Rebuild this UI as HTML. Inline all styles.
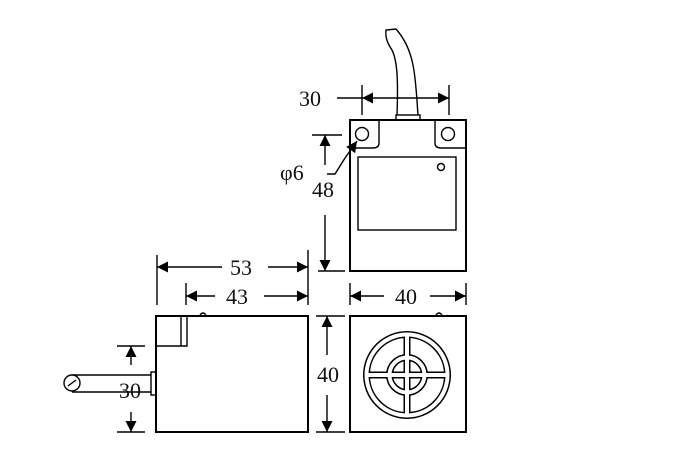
<!DOCTYPE html>
<html><head><style>body{margin:0;background:#fff}svg{display:block}text{font-family:"Liberation Serif",serif;font-size:22px;fill:#111}</style></head>
<body>
<svg width="700" height="475" viewBox="0 0 700 475" xmlns="http://www.w3.org/2000/svg">
<defs>
<marker id="a" viewBox="0 0 10 10" refX="10" refY="5" markerWidth="15" markerHeight="11" markerUnits="userSpaceOnUse" orient="auto-start-reverse"><path d="M0,0 L10,5 L0,10 z" fill="#000"/></marker>
</defs>
<g stroke="#000" fill="none" stroke-width="1.4">
<!-- top view -->
<path d="M397,116 C398,85 398,62 392,50 C388,44 385,38 386,30 L396,29 C404,38 410,50 413,65 C416,80 417,100 418,116"/>
<rect x="396" y="115" width="24" height="5" fill="#fff"/>
<rect x="350" y="120" width="116" height="151" stroke-width="2"/>
<path d="M379,120 L379,143 Q379,148 373,148 L350,148"/>
<path d="M435,120 L435,143 Q435,148 441,148 L466,148"/>
<circle cx="362" cy="134" r="6.5"/>
<circle cx="448" cy="134" r="6.5"/>
<rect x="358" y="157" width="98" height="73"/>
<circle cx="441" cy="167" r="3.5"/>
<!-- 30 top -->
<line x1="362" y1="85" x2="362" y2="115"/>
<line x1="449" y1="85" x2="449" y2="115"/>
<line x1="337" y1="98" x2="362" y2="98"/>
<line x1="362" y1="98" x2="449" y2="98" marker-start="url(#a)" marker-end="url(#a)"/>
<!-- 48 -->
<line x1="312" y1="135" x2="342" y2="135"/>
<line x1="318" y1="271" x2="345" y2="271"/>
<line x1="325" y1="165" x2="325" y2="135" marker-end="url(#a)"/>
<line x1="325" y1="215" x2="325" y2="271" marker-end="url(#a)"/>
<path d="M327,174 L335,174 L345,158"/>
<line x1="345" y1="158" x2="357" y2="141" marker-end="url(#a)"/>
<!-- side view -->
<rect x="156" y="316" width="152" height="116" stroke-width="2"/>
<path d="M156,346 L187,346 L187,316"/>
<line x1="181" y1="316" x2="181" y2="346"/>
<path d="M200,315 Q203,311 206,315"/>
<rect x="151" y="372" width="5" height="23"/>
<path d="M72,375 L151,375 M72,392 L151,392"/>
<circle cx="72" cy="383" r="8" fill="#fff"/>
<line x1="68" y1="386" x2="76" y2="380"/>
<!-- 53 / 43 -->
<line x1="157" y1="255" x2="157" y2="305"/>
<line x1="308" y1="250" x2="308" y2="305"/>
<line x1="186" y1="283" x2="186" y2="305"/>
<line x1="222" y1="267" x2="157" y2="267" marker-end="url(#a)"/>
<line x1="268" y1="267" x2="308" y2="267" marker-end="url(#a)"/>
<line x1="215" y1="296" x2="186" y2="296" marker-end="url(#a)"/>
<line x1="264" y1="296" x2="308" y2="296" marker-end="url(#a)"/>
<!-- 40 vertical -->
<line x1="316" y1="316" x2="345" y2="316"/>
<line x1="316" y1="432" x2="345" y2="432"/>
<line x1="327" y1="355" x2="327" y2="316" marker-end="url(#a)"/>
<line x1="327" y1="395" x2="327" y2="432" marker-end="url(#a)"/>
<!-- 30 vertical -->
<line x1="117" y1="346" x2="145" y2="346"/>
<line x1="117" y1="432" x2="145" y2="432"/>
<line x1="131" y1="365" x2="131" y2="346" marker-end="url(#a)"/>
<line x1="131" y1="412" x2="131" y2="432" marker-end="url(#a)"/>
<!-- front view -->
<rect x="350" y="316" width="116" height="116" stroke-width="2"/>
<path d="M436,315 Q439,311 442,315"/>
<line x1="350" y1="283" x2="350" y2="305"/>
<line x1="466" y1="283" x2="466" y2="305"/>
<line x1="384" y1="296" x2="350" y2="296" marker-end="url(#a)"/>
<line x1="430" y1="296" x2="466" y2="296" marker-end="url(#a)"/>
</g>
<g fill="none" stroke="#000" stroke-width="7">
<circle cx="407" cy="375" r="40.5"/>
<circle cx="407" cy="375" r="17.5"/>
<line x1="407" y1="333" x2="407" y2="417"/>
<line x1="365" y1="375" x2="449" y2="375"/>
</g>
<g fill="none" stroke="#fff" stroke-width="4">
<circle cx="407" cy="375" r="40.5"/>
<circle cx="407" cy="375" r="17.5"/>
<line x1="407" y1="335.5" x2="407" y2="414.5"/>
<line x1="367.5" y1="375" x2="446.5" y2="375"/>
</g>
<text x="299" y="106">30</text>
<text x="280" y="180">φ6</text>
<text x="312" y="197">48</text>
<text x="230" y="275">53</text>
<text x="226" y="304">43</text>
<text x="395" y="304">40</text>
<text x="317" y="382">40</text>
<text x="119" y="398">30</text>
</svg>
</body></html>
